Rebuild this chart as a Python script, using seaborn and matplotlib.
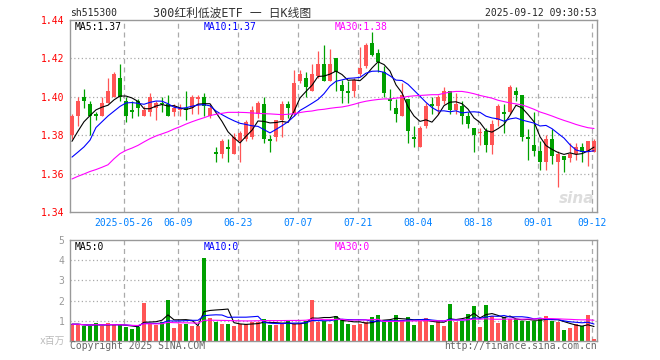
import numpy as np
import pandas as pd
import seaborn as sns
import matplotlib.pyplot as plt

# Daily candles for sh515300, 2025-05-13 .. 2025-09-12 (88 trading days)
open_ = [1.380, 1.390, 1.400, 1.396, 1.391, 1.390, 1.397, 1.400, 1.410, 1.398,
         1.393, 1.398, 1.390, 1.392, 1.394, 1.397, 1.396, 1.392, 1.393, 1.394,
         1.394, 1.399, 1.400, 1.390, 1.371, 1.370, 1.374, 1.370, 1.377, 1.378,
         1.379, 1.391, 1.396, 1.378, 1.379, 1.388, 1.396, 1.391, 1.408, 1.410,
         1.403, 1.411, 1.417, 1.408, 1.420, 1.406, 1.403, 1.403, 1.412, 1.416,
         1.428, 1.423, 1.413, 1.399, 1.394, 1.390, 1.399, 1.379, 1.374, 1.385,
         1.396, 1.395, 1.398, 1.403, 1.393, 1.395, 1.390, 1.384, 1.381, 1.382,
         1.375, 1.388, 1.392, 1.392, 1.403, 1.401, 1.379, 1.375, 1.372, 1.366,
         1.378, 1.366, 1.369, 1.368, 1.370, 1.374, 1.371, 1.371]
close = [1.390, 1.398, 1.398, 1.390, 1.390, 1.397, 1.403, 1.412, 1.400, 1.390,
         1.392, 1.394, 1.393, 1.400, 1.397, 1.396, 1.390, 1.394, 1.394, 1.393,
         1.400, 1.400, 1.395, 1.394, 1.370, 1.377, 1.373, 1.379, 1.381, 1.387,
         1.393, 1.397, 1.378, 1.377, 1.388, 1.396, 1.394, 1.407, 1.412, 1.405,
         1.412, 1.417, 1.408, 1.417, 1.413, 1.403, 1.402, 1.409, 1.415, 1.427,
         1.422, 1.418, 1.402, 1.398, 1.391, 1.401, 1.382, 1.378, 1.384, 1.395,
         1.395, 1.400, 1.403, 1.393, 1.396, 1.390, 1.386, 1.380, 1.381, 1.375,
         1.386, 1.395, 1.391, 1.405, 1.401, 1.379, 1.378, 1.372, 1.366, 1.378,
         1.369, 1.370, 1.367, 1.370, 1.374, 1.371, 1.377, 1.377]
high = [1.391, 1.400, 1.404, 1.398, 1.392, 1.400, 1.410, 1.413, 1.417, 1.400,
        1.398, 1.399, 1.395, 1.402, 1.398, 1.400, 1.401, 1.396, 1.396, 1.403,
        1.401, 1.401, 1.402, 1.396, 1.374, 1.378, 1.378, 1.381, 1.382, 1.388,
        1.395, 1.398, 1.400, 1.380, 1.388, 1.398, 1.398, 1.414, 1.414, 1.413,
        1.417, 1.424, 1.427, 1.425, 1.420, 1.409, 1.408, 1.410, 1.426, 1.428,
        1.434, 1.425, 1.416, 1.404, 1.399, 1.407, 1.399, 1.385, 1.385, 1.397,
        1.400, 1.401, 1.405, 1.403, 1.402, 1.398, 1.392, 1.384, 1.384, 1.384,
        1.388, 1.396, 1.396, 1.406, 1.405, 1.401, 1.383, 1.392, 1.377, 1.380,
        1.383, 1.372, 1.369, 1.376, 1.376, 1.376, 1.377, 1.378]
low = [1.378, 1.385, 1.394, 1.380, 1.388, 1.390, 1.397, 1.400, 1.398, 1.387,
       1.389, 1.390, 1.390, 1.390, 1.388, 1.392, 1.390, 1.390, 1.390, 1.388,
       1.391, 1.391, 1.390, 1.389, 1.366, 1.368, 1.366, 1.370, 1.366, 1.377,
       1.378, 1.389, 1.376, 1.371, 1.377, 1.379, 1.389, 1.390, 1.407, 1.400,
       1.403, 1.410, 1.408, 1.408, 1.403, 1.397, 1.397, 1.400, 1.411, 1.415,
       1.421, 1.413, 1.400, 1.393, 1.387, 1.390, 1.376, 1.374, 1.374, 1.384,
       1.391, 1.391, 1.396, 1.391, 1.391, 1.386, 1.384, 1.371, 1.375, 1.371,
       1.370, 1.385, 1.381, 1.391, 1.398, 1.377, 1.367, 1.369, 1.362, 1.362,
       1.365, 1.353, 1.361, 1.366, 1.367, 1.366, 1.364, 1.371]
# volume in millions (x百万)
volume = [0.83, 0.83, 0.75, 0.75, 0.88, 0.75, 0.88, 0.78, 0.78, 0.70,
          0.58, 0.70, 1.88, 0.83, 0.78, 0.95, 2.03, 0.65, 0.83, 0.83,
          0.75, 0.72, 4.13, 1.13, 0.95, 0.85, 0.85, 0.75, 0.83, 0.83,
          0.95, 0.95, 1.08, 0.78, 0.78, 0.83, 1.00, 0.83, 0.83, 1.00,
          2.03, 0.95, 1.00, 0.83, 1.25, 1.05, 0.83, 0.78, 0.83, 0.92,
          1.18, 1.28, 0.95, 0.95, 1.28, 1.05, 1.18, 0.78, 1.00, 1.12,
          0.78, 1.00, 0.75, 1.83, 0.95, 1.00, 1.33, 1.73, 0.70, 1.78,
          1.25, 0.88, 1.18, 1.08, 1.08, 1.00, 1.00, 1.00, 1.08, 1.25,
          1.00, 0.95, 0.53, 0.62, 0.83, 0.75, 1.28, 0.10]

# moving averages where the window reaches before the first candle
ma5_head = [1.3768, 1.3821, 1.3870, 1.3902]
ma10_head = [1.3686, 1.3712, 1.3739, 1.3774, 1.3840, 1.3870, 1.3900, 1.3925, 1.3950]
ma30 = [1.3572, 1.3586, 1.3598, 1.3611, 1.3621, 1.3633, 1.3646, 1.3677, 1.3704, 1.3721,
        1.3733, 1.3747, 1.3765, 1.3782, 1.3796, 1.3807, 1.3818, 1.3832, 1.3844, 1.3858,
        1.3870, 1.3881, 1.3891, 1.3902, 1.3909, 1.3914, 1.3919, 1.3919, 1.3919, 1.3918,
        1.3916, 1.3914, 1.3912, 1.3911, 1.3909, 1.3907, 1.3909, 1.3912, 1.3918, 1.3923,
        1.3926, 1.3932, 1.3935, 1.3940, 1.3944, 1.3947, 1.3953, 1.3961, 1.3970, 1.3977,
        1.3982, 1.3986, 1.3989, 1.3989, 1.3993, 1.3996, 1.4002, 1.4005, 1.4007, 1.4009,
        1.4011, 1.4011, 1.4018, 1.4025, 1.4028, 1.4028, 1.4023, 1.4016, 1.4007, 1.4000,
        1.3993, 1.3982, 1.3975, 1.3968, 1.3963, 1.3958, 1.3947, 1.3935, 1.3921, 1.3911,
        1.3900, 1.3888, 1.3877, 1.3867, 1.3856, 1.3847, 1.3839, 1.3835]

tick_idx = [9, 18, 28, 38, 48, 58, 68, 78, 87]
tick_labels = ["2025-05-26", "06-09", "06-23", "07-07", "07-21",
               "08-04", "08-18", "09-01", "09-12"]

df = pd.DataFrame({"open": open_, "high": high, "low": low,
                   "close": close, "vol": volume})
df["idx"] = np.arange(len(df))
df["ma5"] = df["close"].rolling(5).mean()
df.loc[:len(ma5_head) - 1, "ma5"] = ma5_head
df["ma10"] = df["close"].rolling(10).mean()
df.loc[:len(ma10_head) - 1, "ma10"] = ma10_head
df["ma30"] = ma30
df["vma5"] = df["vol"].rolling(5, min_periods=1).mean()
df["vma10"] = df["vol"].rolling(10, min_periods=1).mean()
df["vma30"] = df["vol"].rolling(30, min_periods=1).mean()

RED = "#ff5555"
GREEN = "#00a000"
GRID = "#aaaaaa"
FRAME = "#999999"
up = df["close"] >= df["open"]
colors = np.where(up, RED, GREEN)

sns.set_style("white")
plt.rcParams["font.family"] = ["DejaVu Sans Mono", "Noto Sans CJK SC"]

fig = plt.figure(figsize=(6.6, 3.6), dpi=100)
ax = fig.add_axes([70 / 660, 1 - 212 / 360, 527 / 660, 192 / 360])
axv = fig.add_axes([70 / 660, 1 - 341 / 360, 527 / 660, 101 / 360])

grid_x = [t - 0.33 for t in tick_idx]
for a in (ax, axv):
    a.set_xlim(-0.33, 87.5)
    for s in a.spines.values():
        s.set_color(FRAME)
        s.set_linewidth(1.0)
    for gx in grid_x:
        a.axvline(gx, color=GRID, lw=0.9, ls=(0, (4, 3)), zorder=0)
    a.tick_params(length=0)

# price panel
ax.set_ylim(1.34, 1.44)
for gy in [1.36, 1.38, 1.40, 1.42]:
    ax.axhline(gy, color=GRID, lw=0.9, ls=(0, (1, 2)), zorder=0)
ax.vlines(df["idx"], df["low"], df["high"], colors=colors, lw=0.9, zorder=2)
body = np.maximum((df["close"] - df["open"]).abs(), 0.0006)
ax.bar(df["idx"], body, bottom=np.minimum(df["open"], df["close"]),
       width=0.8, color=colors, linewidth=0, zorder=3)
sns.lineplot(x=df["idx"], y=df["ma5"], ax=ax, color="black", lw=0.8, zorder=4)
sns.lineplot(x=df["idx"], y=df["ma10"], ax=ax, color="#0000ff", lw=0.8, zorder=4)
sns.lineplot(x=df["idx"], y=df["ma30"], ax=ax, color="#ff00ff", lw=0.8, zorder=4)
ax.set_xlabel("")
ax.set_ylabel("")
ax.set_yticks([1.34, 1.36, 1.38, 1.40, 1.42, 1.44])
ax.set_yticklabels(["%.2f" % v for v in [1.34, 1.36, 1.38, 1.40, 1.42, 1.44]],
                   color="#ff0000", fontsize=7)
ax.set_xticks(grid_x)
ax.set_xticklabels(tick_labels, color="#0080ff", fontsize=7)
ax.tick_params(axis="y", pad=4)
ax.tick_params(axis="x", pad=4)

ax.text(0.0095, 0.963, "MA5:1.37", transform=ax.transAxes, fontsize=7,
        color="black", va="center")
ax.text(0.254, 0.963, "MA10:1.37", transform=ax.transAxes, fontsize=7,
        color="#0000ff", va="center")
ax.text(0.503, 0.963, "MA30:1.38", transform=ax.transAxes, fontsize=7,
        color="#ff00ff", va="center")
ax.text(0.995, 0.07, "sina", transform=ax.transAxes, fontsize=11,
        color="#dddddd", ha="right", va="center", style="italic",
        weight="bold", family="DejaVu Sans")

# volume panel
axv.set_ylim(0, 5)
for gy in [1, 2, 3, 4]:
    axv.axhline(gy, color=GRID, lw=0.9, ls=(0, (1, 2)), zorder=0)
axv.bar(df["idx"], df["vol"], width=0.8, color=colors, linewidth=0, zorder=2)
sns.lineplot(x=df["idx"], y=df["vma5"], ax=axv, color="black", lw=0.8, zorder=4)
sns.lineplot(x=df["idx"], y=df["vma10"], ax=axv, color="#0000ff", lw=0.8, zorder=4)
sns.lineplot(x=df["idx"], y=df["vma30"], ax=axv, color="#ff00ff", lw=0.8, zorder=4)
axv.set_xlabel("")
axv.set_ylabel("")
axv.set_xticks(grid_x)
axv.set_xticklabels([])
axv.set_yticks([1, 2, 3, 4, 5])
axv.set_yticklabels(["1", "2", "3", "4", "5"], color="#999999", fontsize=7)
axv.tick_params(axis="y", pad=4)
axv.text(0.0095, 0.93, "MA5:0", transform=axv.transAxes, fontsize=7,
         color="black", va="center")
axv.text(0.254, 0.93, "MA10:0", transform=axv.transAxes, fontsize=7,
         color="#0000ff", va="center")
axv.text(0.503, 0.93, "MA30:0", transform=axv.transAxes, fontsize=7,
         color="#ff00ff", va="center")

# header and footer texts
fig.text(70 / 660, 1 - 13 / 360, "sh515300", fontsize=7, va="center")
fig.text(232 / 660, 1 - 13 / 360, "300红利低波ETF 一 日K线图", fontsize=8.5,
         va="center", ha="center", color="#333333")
fig.text(597 / 660, 1 - 13 / 360, "2025-09-12 09:30:53", fontsize=7,
         va="center", ha="right")
fig.text(65 / 660, 1 - 341 / 360, "x百万", fontsize=7, va="center",
         ha="right", color="#bbbbbb")
fig.text(70 / 660, 1 - 346 / 360, "Copyright 2025 SINA.COM", fontsize=7,
         va="center", color="#666666")
fig.text(597 / 660, 1 - 346 / 360, "http://finance.sina.com.cn", fontsize=7,
         va="center", ha="right", color="#666666")

fig.savefig("out.png", dpi=100)
